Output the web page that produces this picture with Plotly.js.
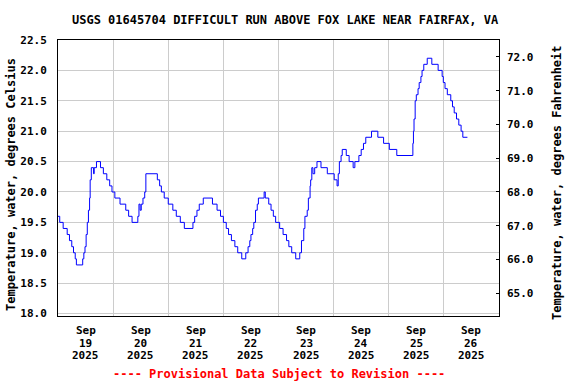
<!DOCTYPE html>
<html>
<head>
<meta charset="utf-8">
<script src="https://cdn.plot.ly/plotly-3.0.1.min.js"></script>
<style>html,body{margin:0;padding:0;background:#fff;}#chart{width:576px;height:384px;}</style>
</head>
<body>
<div id="chart"></div>
<script>
const chartTitle = "USGS 01645704 DIFFICULT RUN ABOVE FOX LAKE NEAR FAIRFAX, VA";
const leftTitle = "Temperature, water, degrees Celsius";
const rightTitle = "Temperature, water, degrees Fahrenheit";
const footerText = "---- Provisional Data Subject to Revision ----";

const times = [
"2025-09-19 00:00","2025-09-19 00:45","2025-09-19 02:15","2025-09-19 04:00","2025-09-19 05:00","2025-09-19 06:00","2025-09-19 06:45","2025-09-19 07:30","2025-09-19 08:00","2025-09-19 10:45","2025-09-19 11:15","2025-09-19 11:45","2025-09-19 12:15","2025-09-19 12:45","2025-09-19 13:15","2025-09-19 13:45","2025-09-19 14:00","2025-09-19 14:30","2025-09-19 15:30","2025-09-19 15:45","2025-09-19 16:45","2025-09-19 18:30","2025-09-19 19:45","2025-09-19 21:15","2025-09-19 22:30","2025-09-19 23:30",
"2025-09-20 00:45","2025-09-20 03:00","2025-09-20 05:30","2025-09-20 06:45","2025-09-20 08:15","2025-09-20 10:45","2025-09-20 11:15","2025-09-20 11:45","2025-09-20 12:15","2025-09-20 13:00","2025-09-20 13:45","2025-09-20 14:15","2025-09-20 19:15","2025-09-20 20:15","2025-09-20 21:00","2025-09-20 22:15",
"2025-09-21 00:00","2025-09-21 02:00","2025-09-21 03:30","2025-09-21 05:15","2025-09-21 07:00","2025-09-21 10:45","2025-09-21 11:30","2025-09-21 12:30","2025-09-21 13:30","2025-09-21 15:15","2025-09-21 19:15","2025-09-21 21:15","2025-09-21 22:45",
"2025-09-22 00:00","2025-09-22 01:15","2025-09-22 02:15","2025-09-22 03:30","2025-09-22 05:00","2025-09-22 06:15","2025-09-22 08:00","2025-09-22 09:45","2025-09-22 10:45","2025-09-22 11:30","2025-09-22 12:00","2025-09-22 12:45","2025-09-22 13:15","2025-09-22 14:00","2025-09-22 14:45","2025-09-22 15:15","2025-09-22 17:45","2025-09-22 18:15","2025-09-22 19:45","2025-09-22 20:45","2025-09-22 21:45","2025-09-22 22:45",
"2025-09-23 00:30","2025-09-23 02:00","2025-09-23 03:30","2025-09-23 04:30","2025-09-23 05:45","2025-09-23 07:30","2025-09-23 09:15","2025-09-23 10:00","2025-09-23 11:00","2025-09-23 11:30","2025-09-23 12:30","2025-09-23 13:00","2025-09-23 13:45","2025-09-23 14:00","2025-09-23 14:30","2025-09-23 15:00","2025-09-23 15:45","2025-09-23 16:45","2025-09-23 18:30","2025-09-23 21:15",
"2025-09-24 00:15","2025-09-24 01:30","2025-09-24 02:00","2025-09-24 02:30","2025-09-24 03:15","2025-09-24 03:45","2025-09-24 05:30","2025-09-24 06:45","2025-09-24 08:30","2025-09-24 09:15","2025-09-24 11:00","2025-09-24 12:00","2025-09-24 13:00","2025-09-24 14:00","2025-09-24 16:30","2025-09-24 19:15","2025-09-24 21:45",
"2025-09-25 00:15","2025-09-25 03:30","2025-09-25 10:30","2025-09-25 10:45","2025-09-25 11:00","2025-09-25 11:30","2025-09-25 12:00","2025-09-25 12:45","2025-09-25 13:15","2025-09-25 14:00","2025-09-25 14:30","2025-09-25 15:15","2025-09-25 16:45","2025-09-25 18:45","2025-09-25 21:30","2025-09-25 23:15","2025-09-25 23:45",
"2025-09-26 00:30","2025-09-26 01:30","2025-09-26 03:00","2025-09-26 03:45","2025-09-26 04:30","2025-09-26 05:30","2025-09-26 06:30","2025-09-26 07:30","2025-09-26 08:15","2025-09-26 10:15"
];
const tempC = [
19.6,19.5,19.4,19.3,19.2,19.1,19.0,18.9,18.8,18.9,19.0,19.1,19.3,19.5,19.7,19.9,20.2,20.4,20.3,20.4,20.5,20.4,20.3,20.2,20.1,20.0,
19.9,19.8,19.7,19.6,19.5,19.6,19.8,19.7,19.8,19.9,20.0,20.3,20.2,20.1,20.0,19.9,
19.8,19.7,19.6,19.5,19.4,19.5,19.6,19.7,19.8,19.9,19.8,19.7,19.6,
19.5,19.4,19.3,19.2,19.1,19.0,18.9,19.0,19.1,19.2,19.3,19.4,19.5,19.7,19.8,19.9,20.0,19.9,19.8,19.7,19.6,19.5,
19.4,19.3,19.2,19.1,19.0,18.9,19.0,19.2,19.4,19.6,19.7,19.9,20.1,20.2,20.4,20.3,20.4,20.5,20.4,20.3,
20.2,20.1,20.3,20.5,20.6,20.7,20.6,20.5,20.4,20.5,20.6,20.7,20.8,20.9,21.0,20.9,20.8,
20.7,20.6,20.8,21.0,21.2,21.5,21.6,21.7,21.8,21.9,22.0,22.1,22.2,22.1,22.0,21.9,21.8,
21.7,21.6,21.5,21.4,21.3,21.2,21.1,21.0,20.9,20.9
];

const dayTicks = ["2025-09-19 12:00","2025-09-20 12:00","2025-09-21 12:00","2025-09-22 12:00","2025-09-23 12:00","2025-09-24 12:00","2025-09-25 12:00","2025-09-26 12:00"];
const tickMonths = ["Sep","Sep","Sep","Sep","Sep","Sep","Sep","Sep"];
const tickDays = ["19","20","21","22","23","24","25","26"];
const tickYears = ["2025","2025","2025","2025","2025","2025","2025","2025"];
const xRange = ["2025-09-19 00:00","2025-09-27 00:00"];
const cRange = [17.96, 22.5];
const fRange = cRange.map(c => c * 1.8 + 32);

const font = {family: "DejaVu Sans Mono", size: 12, color: "#000", weight: "bold"};
const tickFont = {family: "DejaVu Sans Mono", size: 11, color: "#000", weight: "bold"};

const traces = [
  {x: times, y: tempC, type: "scatter", mode: "lines", line: {color: "#0000ff", width: 1, shape: "hv"}, hoverinfo: "x+y", showlegend: false},
  {x: times, y: tempC.map(c => c * 1.8 + 32), yaxis: "y2", type: "scatter", mode: "lines", line: {color: "rgba(0,0,0,0)", width: 0}, hoverinfo: "skip", showlegend: false}
];

const annotations = [
  {text: leftTitle, xref: "paper", yref: "paper", x: 0, y: 0.5, xshift: -47, yshift: -7, textangle: -90, showarrow: false, font: font, xanchor: "center", yanchor: "middle"},
  {text: rightTitle, xref: "paper", yref: "paper", x: 1, y: 0.5, xshift: 58, yshift: -5, textangle: -90, showarrow: false, font: font, xanchor: "center", yanchor: "middle"},
  {text: footerText, xref: "paper", yref: "paper", x: 0.5, y: 0, yshift: -58, showarrow: false, font: {family: "DejaVu Sans Mono", size: 12, color: "#ff0000", weight: "bold"}, xanchor: "center", yanchor: "middle"}
];
dayTicks.forEach((t, i) => {
  [tickMonths[i], tickDays[i], tickYears[i]].forEach((txt, j) => {
    annotations.push({text: txt, xref: "x", yref: "paper", x: t, y: 0, yshift: -14.5 - 12.7 * j, showarrow: false, font: tickFont, xanchor: "center", yanchor: "middle"});
  });
});

const layout = {
  width: 576, height: 384,
  margin: {l: 58, r: 77, t: 40, b: 68, pad: 0},
  paper_bgcolor: "#fff", plot_bgcolor: "#fff",
  font: font,
  showlegend: false,
  title: {text: chartTitle, font: font, x: 0.495, xref: "container", xanchor: "center", y: 0.948, yref: "container", yanchor: "middle"},
  xaxis: {
    type: "date", range: xRange,
    tickmode: "array", tickvals: dayTicks, showticklabels: false,
    ticks: "", showgrid: false, zeroline: false,
    showline: true, mirror: true, linecolor: "#000", linewidth: 1,
    minor: {tickmode: "linear", tick0: "2025-09-19 00:00", dtick: 86400000, showgrid: true, gridcolor: "#cccccc", gridwidth: 1, ticks: ""}
  },
  yaxis: {
    range: cRange, tickmode: "linear", tick0: 18, dtick: 0.5, tickformat: ".1f",
    ticks: "", showgrid: true, gridcolor: "#cccccc", gridwidth: 1, zeroline: false,
    showline: true, mirror: true, linecolor: "#000", linewidth: 1,
    tickfont: tickFont, ticklabelstandoff: 8
  },
  yaxis2: {
    overlaying: "y", side: "right", range: fRange,
    tickmode: "linear", tick0: 65, dtick: 1, tickformat: ".1f",
    ticks: "inside", ticklen: 3, tickcolor: "#000", showgrid: false, zeroline: false, showline: false,
    tickfont: tickFont, ticklabelstandoff: 7
  },
  annotations: annotations
};

Plotly.newPlot("chart", traces, layout, {displayModeBar: false, staticPlot: true});
</script>
</body>
</html>
